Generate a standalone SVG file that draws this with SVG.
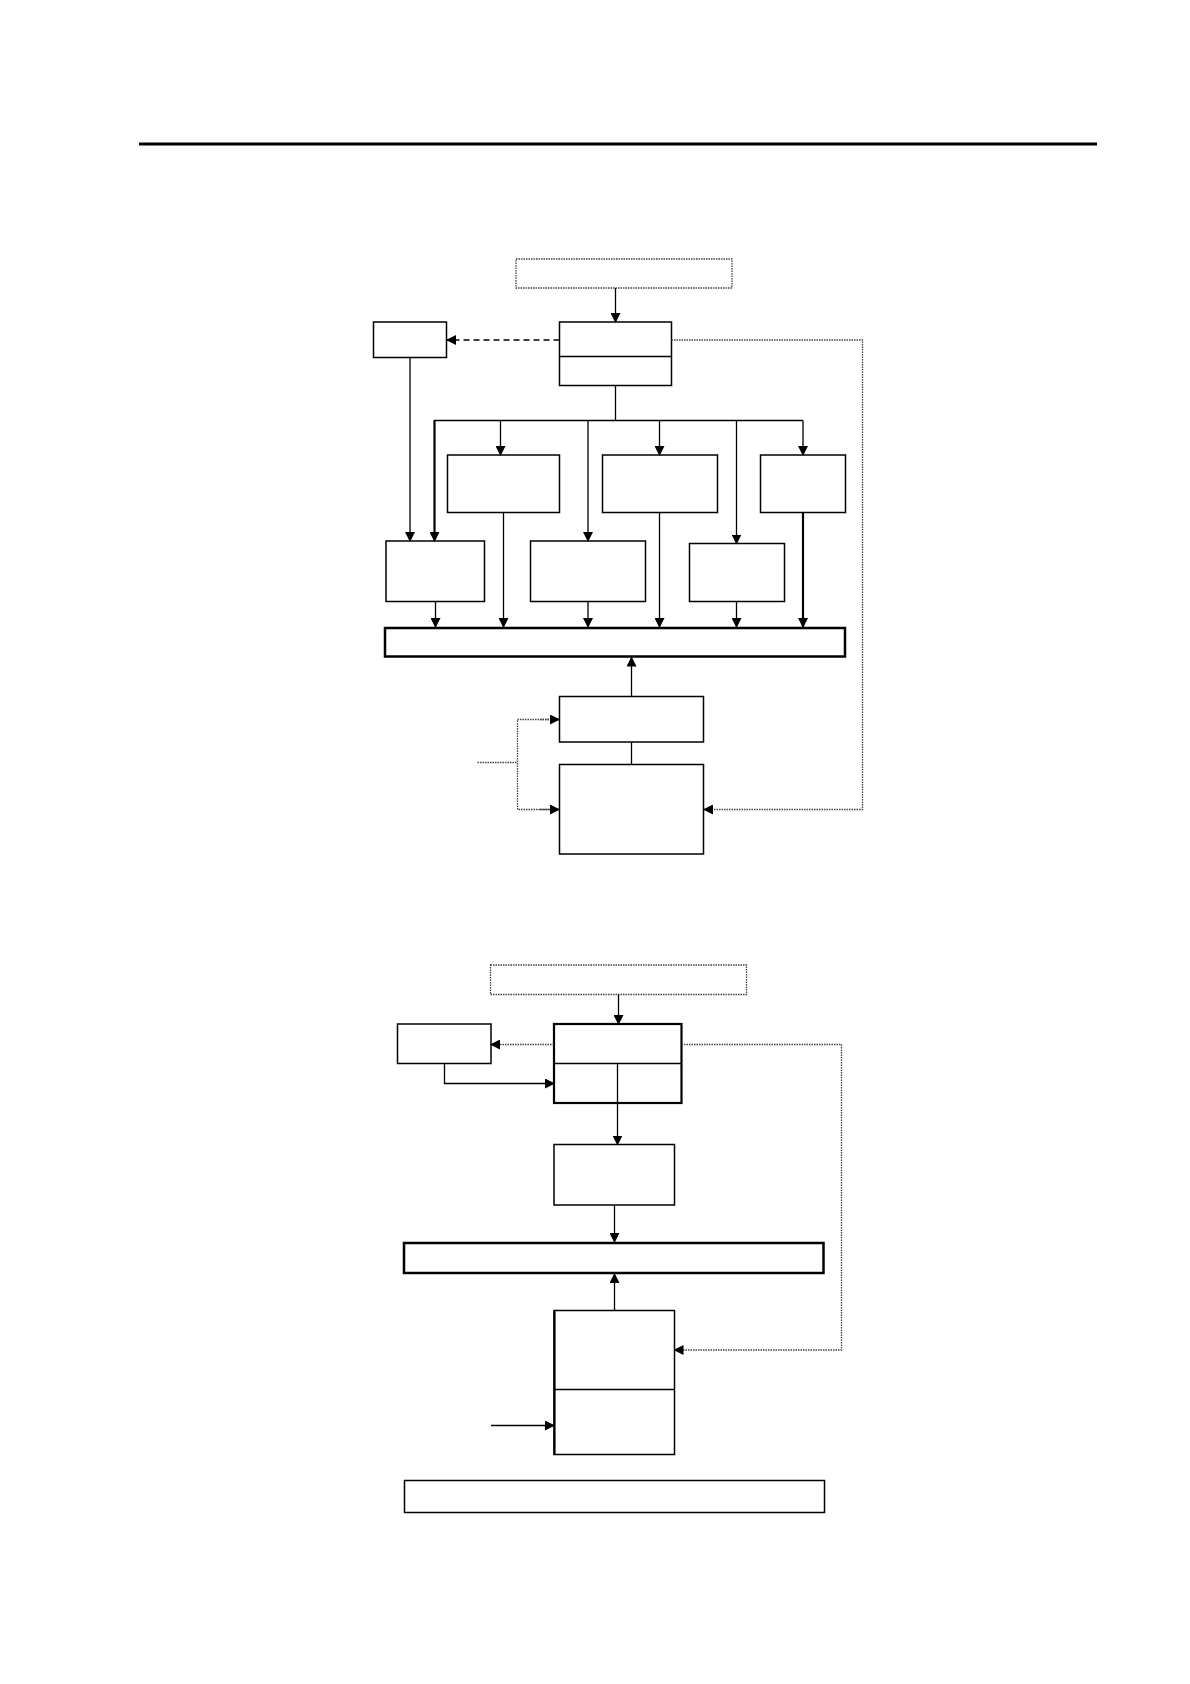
<svg xmlns="http://www.w3.org/2000/svg" width="1190" height="1684" viewBox="0 0 1190 1684">
<style>
.box{fill:#fff;stroke:#000;stroke-width:1.5}
.thick{fill:#fff;stroke:#000;stroke-width:2.5}
.dot{fill:none;stroke:#444;stroke-width:1.3;stroke-dasharray:1.5 1}
.ln{fill:none;stroke:#000;stroke-width:1.3}
.lnb{fill:none;stroke:#000;stroke-width:2.2}
.dash{fill:none;stroke:#000;stroke-width:1.3;stroke-dasharray:6 4}
.dotc{fill:none;stroke:#444;stroke-width:1.3;stroke-dasharray:1.5 1}
</style>
<defs>
<marker id="ah" markerUnits="userSpaceOnUse" markerWidth="10" markerHeight="10" refX="9" refY="5" orient="auto"><path d="M0,0 L10,5 L0,10 Z" fill="#000"/></marker>
</defs>
<rect x="139" y="142.5" width="958" height="3" fill="#000"/>
<g id="top-src"><rect class="dot" x="516" y="259" width="216" height="29"/></g>
<g id="top-main"><rect class="box" x="559.5" y="322" width="112" height="63.5"/><line class="ln" x1="559.5" y1="356.5" x2="671.5" y2="356.5"/></g>
<g id="top-left"><rect class="box" x="373.5" y="322" width="73" height="35.5"/></g>
<g id="upA"><rect class="box" x="447.5" y="455" width="112" height="57.5"/></g>
<g id="upB"><rect class="box" x="602.5" y="455" width="115" height="57.5"/></g>
<g id="upC"><rect class="box" x="760.5" y="455" width="85" height="57.5"/></g>
<g id="lo1"><rect class="box" x="386" y="541" width="98.5" height="60.5"/></g>
<g id="lo2"><rect class="box" x="530.5" y="541" width="115" height="60.5"/></g>
<g id="lo3"><rect class="box" x="689.5" y="543.5" width="95" height="58"/></g>
<g id="bar1"><rect class="thick" x="385" y="628" width="460" height="28.5"/></g>
<g id="boxD"><rect class="box" x="559.5" y="696.5" width="144" height="45.5"/></g>
<g id="boxE"><rect class="box" x="559.5" y="764.5" width="144" height="89.5"/></g>
<g id="bot-src"><rect class="dot" x="490.5" y="965" width="256" height="29.5"/></g>
<g id="bot-main"><rect class="lnb" x="554" y="1024" width="127.5" height="79" fill="#fff"/><line class="ln" x1="554" y1="1063.5" x2="681.5" y2="1063.5"/></g>
<g id="bot-left"><rect class="box" x="397.5" y="1024" width="93.5" height="39.5"/></g>
<g id="boxF"><rect class="box" x="554" y="1144.5" width="120.5" height="60.5"/></g>
<g id="bar2"><rect class="thick" x="404" y="1243" width="419.5" height="30"/></g>
<g id="boxG"><rect class="box" x="554" y="1310.5" width="120.5" height="144"/><line class="ln" x1="554" y1="1389.5" x2="674.5" y2="1389.5"/><line class="lnb" x1="554.5" y1="1310.5" x2="554.5" y2="1454.5"/></g>
<g id="bot-note"><rect class="box" x="404.5" y="1480.5" width="420" height="32"/></g>
<g id="connectors">
<line class="ln" x1="615.5" y1="288" x2="615.5" y2="322" marker-end="url(#ah)"/>
<line class="dash" x1="559.5" y1="340" x2="447" y2="340" marker-end="url(#ah)"/>
<polyline class="dotc" points="671.5,340 862.5,340 862.5,809.5 704,809.5" marker-end="url(#ah)"/>
<line class="ln" x1="410" y1="357.5" x2="410" y2="541" marker-end="url(#ah)"/>
<polyline class="ln" points="615.5,385.5 615.5,420.5"/>
<line class="ln" x1="434.5" y1="420.5" x2="803" y2="420.5"/>
<line class="lnb" x1="434.5" y1="420" x2="434.5" y2="541" marker-end="url(#ah)"/>
<line class="ln" x1="500.5" y1="420.5" x2="500.5" y2="455" marker-end="url(#ah)"/>
<line class="ln" x1="588" y1="420.5" x2="588" y2="541" marker-end="url(#ah)"/>
<line class="ln" x1="659.5" y1="420.5" x2="659.5" y2="455" marker-end="url(#ah)"/>
<line class="ln" x1="736.5" y1="420.5" x2="736.5" y2="543.5" marker-end="url(#ah)"/>
<line class="ln" x1="803" y1="420.5" x2="803" y2="455" marker-end="url(#ah)"/>
<line class="ln" x1="435.5" y1="601.5" x2="435.5" y2="627" marker-end="url(#ah)"/>
<line class="ln" x1="503.5" y1="512.5" x2="503.5" y2="627" marker-end="url(#ah)"/>
<line class="ln" x1="588" y1="601.5" x2="588" y2="627" marker-end="url(#ah)"/>
<line class="ln" x1="659.5" y1="512.5" x2="659.5" y2="627" marker-end="url(#ah)"/>
<line class="ln" x1="736.5" y1="601.5" x2="736.5" y2="627" marker-end="url(#ah)"/>
<line class="lnb" x1="803" y1="512.5" x2="803" y2="627" marker-end="url(#ah)"/>
<line class="ln" x1="631.5" y1="696.5" x2="631.5" y2="657.5" marker-end="url(#ah)"/>
<line class="ln" x1="631.5" y1="742" x2="631.5" y2="764.5"/>
<line class="dotc" x1="477.5" y1="762.5" x2="517.5" y2="762.5"/>
<polyline class="dotc" points="559,719.5 517.5,719.5 517.5,809.5 559,809.5"/>
<line class="dotc" x1="540" y1="719.5" x2="559" y2="719.5" marker-end="url(#ah)"/>
<line class="dotc" x1="540" y1="809.5" x2="559" y2="809.5" marker-end="url(#ah)"/>
<line class="ln" x1="618.5" y1="994.5" x2="618.5" y2="1024" marker-end="url(#ah)"/>
<line class="dotc" x1="554" y1="1044.5" x2="491" y2="1044.5" marker-end="url(#ah)"/>
<polyline class="dotc" points="681.5,1044.5 841.5,1044.5 841.5,1350 674.5,1350" marker-end="url(#ah)"/>
<polyline class="ln" points="444.5,1063.5 444.5,1083.5 554,1083.5" marker-end="url(#ah)"/>
<line class="ln" x1="617.5" y1="1063.5" x2="617.5" y2="1144.5" marker-end="url(#ah)"/>
<line class="ln" x1="614.5" y1="1205" x2="614.5" y2="1242" marker-end="url(#ah)"/>
<line class="ln" x1="614.5" y1="1310.5" x2="614.5" y2="1274" marker-end="url(#ah)"/>
<line class="ln" x1="491" y1="1425.5" x2="554" y2="1425.5" marker-end="url(#ah)"/>
</g>
</svg>
